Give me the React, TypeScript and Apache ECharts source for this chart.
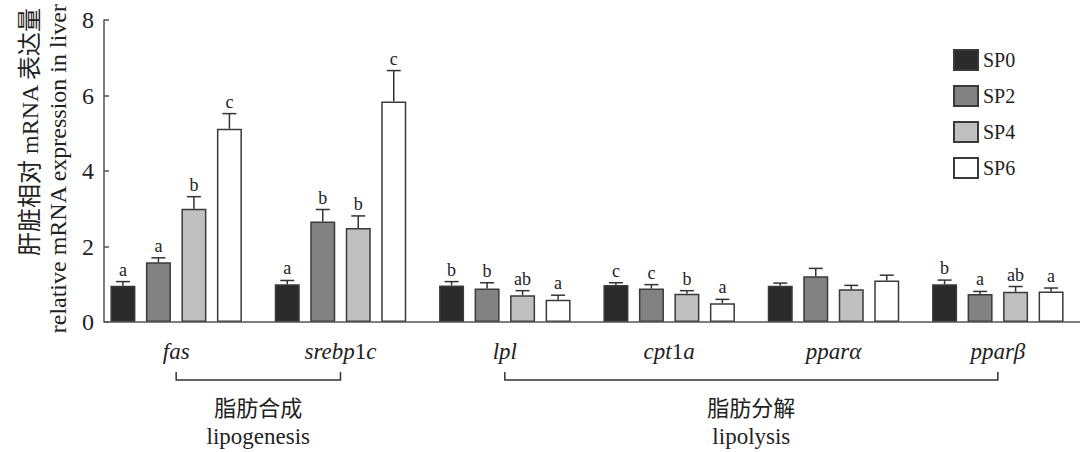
import React, { useEffect, useRef } from 'react';
import * as echarts from 'echarts';

const categories = ['fas', 'srebp1c', 'lpl', 'cpt1a', 'pparα', 'pparβ'];
const seriesNames = ['SP0', 'SP2', 'SP4', 'SP6'];
const sp0 = [0.96, 1.0, 0.97, 0.98, 0.96, 1.0];
const sp2 = [1.58, 2.66, 0.89, 0.89, 1.21, 0.74];
const sp4 = [3.0, 2.49, 0.71, 0.75, 0.87, 0.8];
const sp6 = [5.12, 5.84, 0.59, 0.5, 1.1, 0.81];
const sd0 = [0.11, 0.1, 0.1, 0.06, 0.07, 0.11];
const sd2 = [0.12, 0.32, 0.15, 0.1, 0.21, 0.07];
const sd4 = [0.32, 0.32, 0.12, 0.08, 0.1, 0.14];
const sd6 = [0.4, 0.82, 0.12, 0.1, 0.14, 0.09];
const let0 = ['a', 'a', 'b', 'c', '', 'b'];
const let2 = ['a', 'b', 'b', 'c', '', 'a'];
const let4 = ['b', 'b', 'ab', 'b', '', 'ab'];
const let6 = ['c', 'c', 'a', 'a', '', 'a'];
const yMin = 0;
const yMax = 8;
const yInterval = 2;
const yTitleCn = '肝脏相对 mRNA 表达量';
const yTitleEn = 'relative mRNA expression in liver';
const groupCn = ['脂肪合成', '脂肪分解'];
const groupEn = ['lipogenesis', 'lipolysis'];
const groupFrom = [0, 2];
const groupTo = [1, 5];

const means = [sp0, sp2, sp4, sp6];
const sds = [sd0, sd2, sd4, sd6];
const letters = [let0, let2, let4, let6];
const colors = ['#2a2a2a', '#828282', '#c0c0c0', '#ffffff'];

const FONT = 'Liberation Serif';
const FONT_CJK = 'Liberation Serif, Noto Sans CJK SC';
const BAR_W = 25;
const GAP = 10.5;
const TXT = '#222';

export default function App() {
  const ref = useRef<HTMLDivElement>(null);
  useEffect(() => {
    if (!ref.current) return;
    const chart = echarts.init(ref.current, undefined, { renderer: 'svg' });

    const barSeries = seriesNames.map((name, si) => ({
      name,
      type: 'bar',
      data: means[si],
      barWidth: BAR_W,
      barGap: (GAP / BAR_W) * 100 + '%',
      itemStyle: { color: colors[si], borderColor: '#3a3a3a', borderWidth: 1.5 },
      z: 2,
    }));

    const errSeries = seriesNames.map((name, si) => ({
      name: 'err_' + name,
      type: 'custom',
      z: 3,
      data: means[si].map((m, i) => [i, m, sds[si][i]]),
      encode: { x: 0, y: 1 },
      renderItem: (params: any, api: any) => {
        const ci = api.value(0);
        const mean = api.value(1);
        const sd = api.value(2);
        const top = api.coord([ci, mean]);
        const x = top[0] + (si - 1.5) * (BAR_W + GAP);
        const yTop = top[1];
        const yErr = api.coord([ci, mean + sd])[1];
        const letter = letters[si][params.dataIndex];
        const lineStyle = { stroke: '#333', lineWidth: 1.5 };
        const children: any[] = [
          { type: 'line', shape: { x1: x, y1: yTop, x2: x, y2: yErr }, style: lineStyle },
          { type: 'line', shape: { x1: x - 7, y1: yErr, x2: x + 7, y2: yErr }, style: lineStyle },
        ];
        if (letter) {
          children.push({
            type: 'text',
            x,
            y: yErr - 3,
            style: {
              text: letter,
              fontSize: 18,
              fontFamily: FONT,
              fill: TXT,
              textAlign: 'center',
              textVerticalAlign: 'bottom',
            },
          });
        }
        return { type: 'group', children };
      },
    }));

    const option: any = {
      animation: false,
      backgroundColor: '#fff',
      textStyle: { fontFamily: FONT },
      grid: { left: 94, right: -13, top: 20, bottom: 130, containLabel: false },
      legend: {
        data: seriesNames,
        orient: 'vertical',
        left: 948,
        top: 44,
        icon: 'rect',
        itemWidth: 24,
        itemHeight: 20,
        itemGap: 14,
        formatter: (n: string) => n + ' ',
        textStyle: { fontSize: 20, fontFamily: FONT, color: TXT },
      },
      xAxis: {
        type: 'category',
        data: categories,
        axisLine: { show: false },
        axisTick: { show: false },
        axisLabel: {
          margin: 18,
          fontFamily: FONT,
          formatter: (v: string) => '{i| ' + v.replace(/(\d+)/g, '}{n|$1}{i|') + ' }',
          rich: {
            i: { fontStyle: 'italic', fontSize: 23, fontFamily: FONT, color: TXT },
            n: { fontStyle: 'normal', fontSize: 23, fontFamily: FONT, color: TXT },
          },
        },
      },
      yAxis: {
        type: 'value',
        min: yMin,
        max: yMax,
        interval: yInterval,
        offset: -10,
        axisLine: { show: true, lineStyle: { color: '#555', width: 1.5 } },
        axisTick: { show: true, inside: true, length: 5, lineStyle: { color: '#555', width: 1.5 } },
        axisLabel: { fontSize: 24, fontFamily: FONT, color: TXT, margin: 10 },
        splitLine: { show: false },
      },
      series: [...barSeries, ...errSeries],
    };
    chart.setOption(option);

    const px = (i: number) => chart.convertToPixel({ xAxisIndex: 0 }, i) as unknown as number;
    const y0 = chart.convertToPixel({ yAxisIndex: 0 }, 0) as unknown as number;
    const axisX = 104;
    const graphics: any[] = [
      {
        type: 'line',
        shape: { x1: axisX, y1: y0, x2: 1080, y2: y0 },
        style: { stroke: '#555', lineWidth: 1.5 },
        z: 10,
      },
      {
        type: 'text',
        x: 30,
        y: 8,
        rotation: Math.PI / 2,
        style: { text: yTitleCn, fontSize: 24, fontFamily: FONT_CJK, fill: TXT, textAlign: 'right', textVerticalAlign: 'middle' },
      },
      {
        type: 'text',
        x: 58,
        y: 4,
        rotation: Math.PI / 2,
        style: { text: yTitleEn, fontSize: 24, fontFamily: FONT, fill: TXT, textAlign: 'right', textVerticalAlign: 'middle' },
      },
    ];
    groupCn.forEach((cn, gi) => {
      const x1 = px(groupFrom[gi]);
      const x2 = px(groupTo[gi]);
      const cx = (x1 + x2) / 2;
      graphics.push({
        type: 'polyline',
        shape: { points: [[x1, 372], [x1, 380], [x2, 380], [x2, 372]] },
        style: { stroke: '#333', lineWidth: 1.5, fill: 'none' },
      });
      graphics.push({
        type: 'text',
        x: cx,
        y: 408,
        style: { text: cn, fontSize: 22, fontFamily: FONT_CJK, fill: TXT, textAlign: 'center', textVerticalAlign: 'middle' },
      });
      graphics.push({
        type: 'text',
        x: cx,
        y: 436,
        style: { text: ' ' + groupEn[gi] + ' ', fontSize: 23, fontFamily: FONT, fill: TXT, textAlign: 'center', textVerticalAlign: 'middle' },
      });
    });
    chart.setOption({ graphic: graphics });

    return () => chart.dispose();
  }, []);
  return (
    <div
      ref={ref}
      style={{ position: 'fixed', left: 0, top: 0, width: 1080, height: 452, background: '#fff', fontFamily: FONT }}
    />
  );
}
